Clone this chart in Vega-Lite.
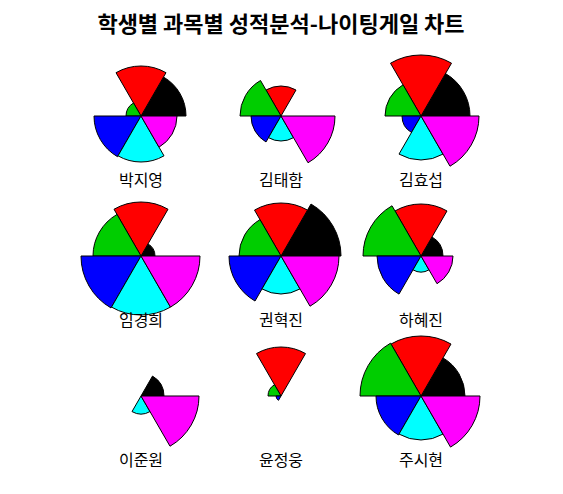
{
  "$schema": "https://vega.github.io/schema/vega-lite/v6.json",
  "padding": {"left": 71, "top": 14, "right": 10, "bottom": 10},
  "title": {"text": "학생별 과목별 성적분석-나이팅게일 차트", "font": "Noto Sans CJK KR", "fontSize": 22, "fontWeight": "bold", "color": "black", "anchor": "middle", "offset": 16},
  "data": {"values": [
    {"student": "박지영", "subject": "국어", "no": 1, "w": 1, "r": 45},
    {"student": "박지영", "subject": "영어", "no": 2, "w": 1, "r": 50},
    {"student": "박지영", "subject": "수학", "no": 3, "w": 1, "r": 15},
    {"student": "박지영", "subject": "과학", "no": 4, "w": 1, "r": 47},
    {"student": "박지영", "subject": "사회", "no": 5, "w": 1, "r": 46},
    {"student": "박지영", "subject": "음악", "no": 6, "w": 1, "r": 36},
    {"student": "김태함", "subject": "국어", "no": 1, "w": 1, "r": 0},
    {"student": "김태함", "subject": "영어", "no": 2, "w": 1, "r": 30},
    {"student": "김태함", "subject": "수학", "no": 3, "w": 1, "r": 41},
    {"student": "김태함", "subject": "과학", "no": 4, "w": 1, "r": 30},
    {"student": "김태함", "subject": "사회", "no": 5, "w": 1, "r": 25},
    {"student": "김태함", "subject": "음악", "no": 6, "w": 1, "r": 54},
    {"student": "김효섭", "subject": "국어", "no": 1, "w": 1, "r": 49},
    {"student": "김효섭", "subject": "영어", "no": 2, "w": 1, "r": 61},
    {"student": "김효섭", "subject": "수학", "no": 3, "w": 1, "r": 36},
    {"student": "김효섭", "subject": "과학", "no": 4, "w": 1, "r": 19},
    {"student": "김효섭", "subject": "사회", "no": 5, "w": 1, "r": 44},
    {"student": "김효섭", "subject": "음악", "no": 6, "w": 1, "r": 58},
    {"student": "임경희", "subject": "국어", "no": 1, "w": 1, "r": 14},
    {"student": "임경희", "subject": "영어", "no": 2, "w": 1, "r": 54},
    {"student": "임경희", "subject": "수학", "no": 3, "w": 1, "r": 48},
    {"student": "임경희", "subject": "과학", "no": 4, "w": 1, "r": 60},
    {"student": "임경희", "subject": "사회", "no": 5, "w": 1, "r": 59},
    {"student": "임경희", "subject": "음악", "no": 6, "w": 1, "r": 59},
    {"student": "권혁진", "subject": "국어", "no": 1, "w": 1, "r": 60},
    {"student": "권혁진", "subject": "영어", "no": 2, "w": 1, "r": 53},
    {"student": "권혁진", "subject": "수학", "no": 3, "w": 1, "r": 42},
    {"student": "권혁진", "subject": "과학", "no": 4, "w": 1, "r": 52},
    {"student": "권혁진", "subject": "사회", "no": 5, "w": 1, "r": 38},
    {"student": "권혁진", "subject": "음악", "no": 6, "w": 1, "r": 58},
    {"student": "하혜진", "subject": "국어", "no": 1, "w": 1, "r": 22},
    {"student": "하혜진", "subject": "영어", "no": 2, "w": 1, "r": 52},
    {"student": "하혜진", "subject": "수학", "no": 3, "w": 1, "r": 58},
    {"student": "하혜진", "subject": "과학", "no": 4, "w": 1, "r": 44},
    {"student": "하혜진", "subject": "사회", "no": 5, "w": 1, "r": 16},
    {"student": "하혜진", "subject": "음악", "no": 6, "w": 1, "r": 32},
    {"student": "이준원", "subject": "국어", "no": 1, "w": 1, "r": 23},
    {"student": "이준원", "subject": "영어", "no": 2, "w": 1, "r": 0},
    {"student": "이준원", "subject": "수학", "no": 3, "w": 1, "r": 0},
    {"student": "이준원", "subject": "과학", "no": 4, "w": 1, "r": 0},
    {"student": "이준원", "subject": "사회", "no": 5, "w": 1, "r": 18},
    {"student": "이준원", "subject": "음악", "no": 6, "w": 1, "r": 58},
    {"student": "윤정웅", "subject": "국어", "no": 1, "w": 1, "r": 0},
    {"student": "윤정웅", "subject": "영어", "no": 2, "w": 1, "r": 49},
    {"student": "윤정웅", "subject": "수학", "no": 3, "w": 1, "r": 13},
    {"student": "윤정웅", "subject": "과학", "no": 4, "w": 1, "r": 5},
    {"student": "윤정웅", "subject": "사회", "no": 5, "w": 1, "r": 0},
    {"student": "윤정웅", "subject": "음악", "no": 6, "w": 1, "r": 0},
    {"student": "주시현", "subject": "국어", "no": 1, "w": 1, "r": 44},
    {"student": "주시현", "subject": "영어", "no": 2, "w": 1, "r": 60},
    {"student": "주시현", "subject": "수학", "no": 3, "w": 1, "r": 61},
    {"student": "주시현", "subject": "과학", "no": 4, "w": 1, "r": 45},
    {"student": "주시현", "subject": "사회", "no": 5, "w": 1, "r": 44},
    {"student": "주시현", "subject": "음악", "no": 6, "w": 1, "r": 59}
  ]},
  "facet": {
    "field": "student", "type": "nominal",
    "sort": ["박지영", "김태함", "김효섭", "임경희", "권혁진", "하혜진", "이준원", "윤정웅", "주시현"],
    "header": {"title": null, "labelOrient": "bottom", "labelFont": "Noto Sans CJK KR", "labelFontSize": 16, "labelPadding": -4, "labelColor": "black"}
  },
  "columns": 3,
  "spacing": {"row": 5, "column": 0},
  "spec": {
    "width": 140,
    "height": 122,
    "transform": [
      {"stack": "w", "groupby": ["student"], "sort": [{"field": "no", "order": "ascending"}], "as": ["a0", "a1"]}
    ],
    "mark": {"type": "arc", "stroke": "black", "strokeWidth": 1},
    "encoding": {
      "theta": {"field": "a0", "type": "quantitative", "scale": {"domain": [0, 6], "range": [1.5708, -4.7124]}},
      "theta2": {"field": "a1"},
      "radius": {"field": "r", "type": "quantitative", "scale": {"type": "linear", "domain": [0, 60], "range": [0, 60], "zero": true}},
      "color": {"field": "subject", "type": "nominal", "scale": {"domain": ["국어", "영어", "수학", "과학", "사회", "음악"], "range": ["#000000", "#FF0000", "#00CD00", "#0000FF", "#00FFFF", "#FF00FF"]}, "legend": null}
    }
  },
  "config": {"view": {"stroke": null}}
}
